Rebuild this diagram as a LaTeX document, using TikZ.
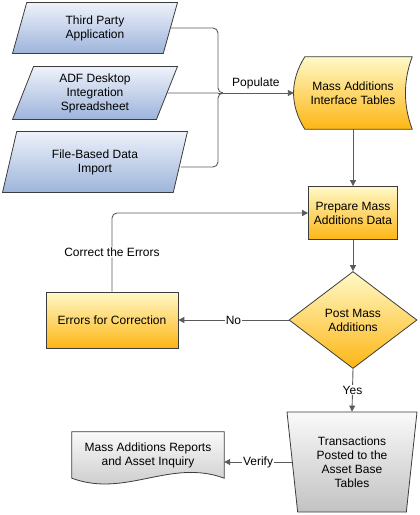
\documentclass[tikz,border=0pt]{standalone}
\usepackage{fontspec}
\setmainfont{Liberation Sans}
\usetikzlibrary{arrows.meta,shapes.geometric,backgrounds}
\definecolor{lineg}{HTML}{5A5A5A}
\definecolor{edgeg}{HTML}{3C3C3C}
\definecolor{bluetop}{HTML}{EEF2FA}
\definecolor{bluebot}{HTML}{9DB4DB}
\definecolor{yeltop}{HTML}{FFF9C8}
\definecolor{yelbot}{HTML}{FDB614}
\definecolor{graytop}{HTML}{FAFAFA}
\definecolor{graybot}{HTML}{C2C2C2}
\tikzset{
    base/.style={align=center, font=\fontsize{12}{14}\selectfont, inner sep=2pt},
    outline/.style={draw=edgeg, line width=0.8pt},
    input/.style={base, outline, trapezium, trapezium left angle=64,
        trapezium right angle=116, trapezium stretches body,
        minimum width=165pt, minimum height=51pt,
        top color=bluetop, bottom color=bluebot},
    box/.style={base, outline, rectangle, top color=yeltop, bottom color=yelbot},
    decision/.style={base, outline, diamond, aspect=1.32, inner sep=0pt,
        minimum width=128pt, minimum height=97pt,
        top color=yeltop, bottom color=yelbot},
    store/.style={base, outline, trapezium, shape border rotate=180,
        trapezium angle=79, trapezium stretches body,
        minimum width=130pt, minimum height=100pt,
        top color=graytop, bottom color=graybot},
    plain/.style={base, rectangle},
    line/.style={draw=lineg, line width=0.9pt},
    arrow/.style={line, -{Triangle[length=6pt,width=6pt]}},
    tag/.style={font=\fontsize{12}{14}\selectfont, fill=white, inner sep=1pt},
    cloop/.style={arrow, rounded corners=5pt, to path={|- (\tikztotarget) \tikztonodes}}
}
\begin{document}
\begin{tikzpicture}[x=1pt, y=-1pt]
    \useasboundingbox (0,0) rectangle (420,515);
    \node[input] (tpa) at (95,28) {Third Party\\Application};
    \node[input, minimum height=53pt] (adf) at (95,93) {ADF Desktop\\Integration\\Spreadsheet};
    \node[input, minimum width=185pt, minimum height=61pt] (fbdi) at (95,162) {File-Based Data\\Import};
    \node[plain, minimum width=118pt, minimum height=72pt] (mait) at (353,93) {Mass Additions\\Interface Tables};
    \node[box, minimum width=89pt, minimum height=53pt] (prep) at (353,213) {Prepare Mass\\Additions Data};
    \node[decision] (post) at (353,320) {Post Mass\\Additions};
    \node[box, minimum width=132pt, minimum height=56pt] (err) at (112,320) {Errors for Correction};
    \node[store] (trans) at (352,462) {Transactions\\Posted to the\\Asset Base\\Tables};
    \node[plain, minimum width=152pt, minimum height=46pt] (rep) at (148,455) {Mass Additions Reports\\and Asset Inquiry};
    \coordinate (jn) at (218,93);

    \begin{scope}[on background layer]
        \draw[outline, top color=yeltop, bottom color=yelbot]
            ([xshift=11pt]mait.north west) -- (mait.north east)
            .. controls +(-9,24) and +(-9,-24) .. (mait.south east)
            -- ([xshift=11pt]mait.south west)
            .. controls +(-15,-24) and +(-15,24) .. ([xshift=11pt]mait.north west) -- cycle;
        \draw[outline, top color=graytop, bottom color=graybot]
            (rep.south east) -- (rep.north east) -- (rep.north west) -- (rep.south west)
            .. controls +(54,20) and +(-54,-20) .. (rep.south east) -- cycle;
    \end{scope}

    \draw[line, rounded corners=5pt] (tpa.east) -| (jn) -- ++(5,0);
    \draw[line, rounded corners=5pt] ([yshift=-5pt]fbdi.east) -| (jn) -- ++(5,0);
    \draw[line] (adf.east) -- (jn);
    \path (jn) edge [arrow] node[above, font=\fontsize{12}{14}\selectfont] {Populate} (mait.west)
        (mait.south) edge [arrow] (prep.north)
        (prep.south) edge [arrow] (post.north)
        (post.west) edge [arrow] node[tag] {No} (err.east)
        (post.south) edge [arrow] node[tag] {Yes} (trans.north)
        (trans.west) edge [arrow] node[tag] {Verify} (trans.west -| rep.east)
        (err.north) edge [cloop] node[tag, pos=0.25] {Correct the Errors} (prep.west);
\end{tikzpicture}
\end{document}
